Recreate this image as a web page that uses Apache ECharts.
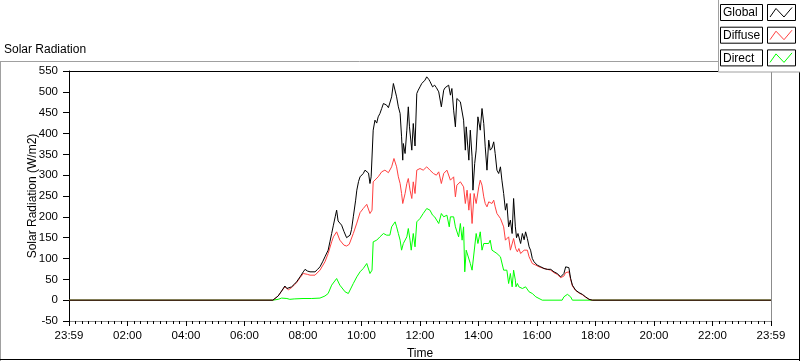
<!DOCTYPE html>
<html>
<head>
<meta charset="utf-8">
<script src="https://cdn.jsdelivr.net/npm/echarts@6/dist/echarts.min.js"></script>
<style>html,body{margin:0;padding:0;background:#fff}#c{width:800px;height:361px}</style>
</head>
<body>
<div id="c"></div>
<script>
// ---- data (time in hours of day, value in W/m2) ----
const seriesNames = ['Global', 'Diffuse', 'Direct'];
const yTicks = [-50, 0, 50, 100, 150, 200, 250, 300, 350, 400, 450, 500, 550];
const xTickLabels = ['23:59', '02:00', '04:00', '06:00', '08:00', '10:00', '12:00', '14:00', '16:00', '18:00', '20:00', '22:00', '23:59'];

const globalT = [0, 6.97, 7.15, 7.27, 7.38, 7.45, 7.50, 7.61, 7.70, 7.78, 7.90, 8.01, 8.07, 8.15, 8.24, 8.41, 8.50, 8.58, 8.67, 8.75, 8.86, 8.92, 8.98, 9.04, 9.10, 9.15, 9.20, 9.26, 9.32, 9.40, 9.49, 9.55, 9.61, 9.66, 9.72, 9.80, 9.84, 9.90, 9.95, 10.01, 10.06, 10.12, 10.18, 10.24, 10.29, 10.33, 10.38, 10.40, 10.46, 10.52, 10.57, 10.63, 10.69, 10.75, 10.80, 10.86, 10.92, 10.97, 11.03, 11.09, 11.15, 11.20, 11.26, 11.32, 11.37, 11.41, 11.43, 11.49, 11.55, 11.60, 11.64, 11.72, 11.77, 11.83, 11.89, 11.94, 12.00, 12.06, 12.11, 12.17, 12.23, 12.30, 12.34, 12.43, 12.50, 12.56, 12.64, 12.73, 12.81, 12.86, 12.92, 12.98, 13.04, 13.09, 13.15, 13.21, 13.26, 13.32, 13.38, 13.44, 13.49, 13.55, 13.58, 13.67, 13.72, 13.78, 13.81, 13.87, 13.92, 13.98, 14.06, 14.12, 14.18, 14.23, 14.29, 14.35, 14.40, 14.46, 14.52, 14.57, 14.63, 14.69, 14.75, 14.80, 14.86, 14.92, 14.97, 15.03, 15.09, 15.15, 15.20, 15.26, 15.30, 15.35, 15.44, 15.50, 15.56, 15.61, 15.67, 15.73, 15.78, 15.84, 15.90, 16.01, 16.13, 16.24, 16.35, 16.47, 16.58, 16.69, 16.81, 16.86, 16.92, 16.98, 17.09, 17.15, 17.21, 17.32, 17.44, 17.55, 17.66, 17.78, 17.89, 24];
const globalV = [0, 0, 10, 22, 34, 28, 26, 32, 38, 44, 56, 68, 74, 70, 68, 68, 74, 80, 92, 104, 120, 140, 160, 180, 200, 216, 190, 185, 180, 165, 150, 146, 156, 170, 200, 240, 264, 285, 296, 300, 304, 312, 316, 305, 280, 296, 300, 408, 432, 425, 440, 448, 460, 472, 470, 468, 462, 460, 488, 520, 522, 488, 464, 448, 392, 336, 376, 352, 408, 464, 416, 360, 424, 370, 496, 504, 512, 520, 524, 528, 536, 530, 525, 512, 516, 510, 500, 464, 504, 510, 512, 516, 492, 508, 456, 416, 484, 480, 476, 472, 432, 360, 416, 336, 408, 344, 264, 328, 360, 440, 408, 460, 424, 368, 312, 384, 360, 365, 380, 352, 312, 304, 320, 288, 256, 216, 232, 176, 192, 160, 244, 176, 150, 160, 136, 160, 145, 164, 148, 128, 120, 100, 92, 84, 80, 76, 74, 74, 68, 64, 56, 52, 64, 80, 78, 52, 36, 24, 18, 14, 8, 2, 0, 0];

const diffuseT = [0, 6.97, 7.15, 7.27, 7.38, 7.50, 7.61, 7.78, 7.90, 8.01, 8.07, 8.15, 8.24, 8.41, 8.58, 8.75, 8.86, 8.98, 9.04, 9.15, 9.26, 9.40, 9.49, 9.58, 9.61, 9.72, 9.84, 9.95, 10.06, 10.18, 10.29, 10.36, 10.40, 10.46, 10.57, 10.69, 10.80, 10.92, 11.03, 11.11, 11.20, 11.26, 11.32, 11.37, 11.41, 11.49, 11.55, 11.60, 11.66, 11.72, 11.77, 11.83, 11.89, 12.00, 12.11, 12.23, 12.34, 12.46, 12.56, 12.64, 12.73, 12.81, 12.92, 13.04, 13.15, 13.21, 13.26, 13.38, 13.49, 13.55, 13.61, 13.67, 13.72, 13.78, 13.85, 13.92, 14.01, 14.06, 14.12, 14.18, 14.23, 14.29, 14.35, 14.46, 14.52, 14.57, 14.63, 14.75, 14.86, 14.92, 15.03, 15.09, 15.20, 15.27, 15.33, 15.38, 15.44, 15.56, 15.61, 15.67, 15.73, 15.84, 15.96, 16.07, 16.24, 16.35, 16.47, 16.58, 16.69, 16.81, 16.86, 16.92, 16.98, 17.09, 17.15, 17.21, 17.32, 17.44, 17.55, 17.66, 17.78, 17.89, 24];
const diffuseV = [0, 0, 10, 22, 32, 25, 30, 42, 54, 64, 68, 62, 60, 60, 72, 92, 112, 140, 152, 164, 144, 132, 130, 134, 136, 160, 185, 210, 220, 230, 208, 216, 284, 288, 296, 308, 312, 306, 320, 340, 320, 296, 280, 256, 232, 256, 280, 292, 264, 244, 284, 256, 312, 316, 312, 320, 312, 304, 300, 308, 280, 304, 312, 288, 296, 248, 276, 284, 272, 232, 264, 216, 256, 184, 256, 232, 272, 288, 276, 248, 232, 224, 236, 232, 240, 224, 208, 196, 176, 144, 152, 120, 148, 124, 116, 124, 112, 120, 124, 120, 104, 88, 84, 80, 76, 74, 72, 66, 62, 54, 50, 58, 66, 68, 50, 34, 23, 17, 13, 7, 2, 0, 0];

const directT = [0, 6.97, 7.15, 7.27, 7.33, 7.45, 7.55, 7.70, 8.00, 8.30, 8.58, 8.75, 8.86, 8.98, 9.15, 9.26, 9.44, 9.55, 9.61, 9.72, 9.84, 9.95, 10.06, 10.18, 10.29, 10.36, 10.40, 10.52, 10.63, 10.75, 10.86, 10.97, 11.03, 11.15, 11.20, 11.26, 11.32, 11.37, 11.43, 11.49, 11.55, 11.60, 11.66, 11.70, 11.77, 11.83, 11.89, 12.00, 12.11, 12.23, 12.34, 12.43, 12.50, 12.56, 12.64, 12.73, 12.81, 12.92, 13.00, 13.04, 13.15, 13.21, 13.32, 13.38, 13.44, 13.49, 13.53, 13.58, 13.72, 13.78, 13.92, 13.98, 14.06, 14.12, 14.18, 14.35, 14.40, 14.46, 14.63, 14.75, 14.86, 14.97, 15.03, 15.09, 15.15, 15.20, 15.26, 15.28, 15.33, 15.38, 15.44, 15.50, 15.61, 15.73, 15.84, 15.96, 16.07, 16.18, 16.86, 16.92, 17.04, 17.15, 17.21, 24];
const directV = [0, 0, 2, 5, 7, 4, 2, 3, 4, 4, 5, 10, 16, 36, 52, 36, 20, 16, 20, 40, 56, 68, 76, 88, 64, 72, 140, 144, 152, 160, 156, 156, 176, 188, 176, 160, 144, 120, 136, 136, 152, 172, 144, 120, 160, 128, 188, 196, 208, 220, 216, 204, 200, 204, 184, 208, 200, 204, 176, 200, 200, 176, 152, 184, 144, 176, 68, 120, 88, 72, 160, 136, 164, 120, 136, 136, 144, 120, 112, 104, 72, 72, 40, 64, 32, 72, 48, 32, 40, 32, 36, 28, 32, 20, 16, 8, 4, 0, 0, 8, 14, 8, 0, 0];

const colors = { Global: '#000000', Diffuse: '#ff4040', Direct: '#00ff00' };
const zip = (t, v) => t.map((x, i) => [x, v[i]]);

const FONT = 'Liberation Sans, Arial, sans-serif';
const chart = echarts.init(document.getElementById('c'), null, { renderer: 'canvas' });

const legendStep = 22.7;
const graphics = [
  { type: 'line', shape: { x1: 0, y1: 61.5, x2: 719, y2: 61.5 }, style: { stroke: '#a0a0a0', lineWidth: 1 }, z: 5, silent: true },
  { type: 'line', shape: { x1: 0.5, y1: 61.5, x2: 0.5, y2: 361 }, style: { stroke: '#a0a0a0', lineWidth: 1 }, z: 5, silent: true },
  { type: 'line', shape: { x1: 0, y1: 359.5, x2: 800, y2: 359.5 }, style: { stroke: '#000', lineWidth: 1 }, z: 5, silent: true },
  { type: 'line', shape: { x1: 799.5, y1: 72, x2: 799.5, y2: 361 }, style: { stroke: '#000', lineWidth: 1 }, z: 5, silent: true },
  { type: 'rect', shape: { x: 718.5, y: -1, width: 90, height: 73 }, style: { fill: '#fff', stroke: '#a0a0a0', lineWidth: 1 }, z: 10, silent: true }
];
seriesNames.forEach((n, i) => {
  const T = 4.5 + i * legendStep;
  graphics.push({ type: 'rect', shape: { x: 720.5, y: T, width: 42, height: 16 }, style: { fill: '#fff', stroke: '#000', lineWidth: 1 }, z: 11, silent: true });
  graphics.push({ type: 'text', x: 723, y: T + 8.5, style: { text: n, font: '12px ' + FONT, fill: '#000', textVerticalAlign: 'middle', verticalAlign: 'middle' }, z: 12, silent: true });
  graphics.push({ type: 'rect', shape: { x: 767.5, y: T, width: 28, height: 16 }, style: { fill: '#fff', stroke: '#000', lineWidth: 1 }, z: 11, silent: true });
  graphics.push({ type: 'polyline', shape: { points: [[770, T + 12.5], [776, T + 4], [784, T + 12.5], [792, T + 3]] }, style: { stroke: colors[n], lineWidth: 1, fill: null }, z: 12, silent: true });
});

chart.setOption({
  animation: false,
  backgroundColor: '#fff',
  textStyle: { fontFamily: FONT },
  title: {
    text: 'Solar Radiation', left: 4, top: 44, padding: 0,
    textStyle: { fontSize: 12, fontWeight: 'normal', color: '#000', fontFamily: FONT }
  },
  graphic: graphics,
  grid: { left: 69, top: 71, right: 29, bottom: 40, containLabel: false, outerBoundsMode: 'none' },
  xAxis: [{
    type: 'value', min: 0, max: 24, interval: 2,
    name: 'Time', nameLocation: 'middle', nameGap: 27, nameMoveOverlap: false,
    nameTextStyle: { fontSize: 12, color: '#000', fontFamily: FONT },
    axisLine: { show: true, onZero: false, lineStyle: { color: '#8c8c8c', width: 1 } },
    axisTick: { show: true, length: 5, lineStyle: { color: '#000' } },
    minorTick: { show: true, splitNumber: 9, length: 3, lineStyle: { color: '#000' } },
    axisLabel: {
      fontSize: 11.5, color: '#000', margin: 9, fontFamily: FONT,
      formatter: v => xTickLabels[Math.round(v / 2)]
    },
    splitLine: { show: false }
  }, {
    type: 'value', min: 0, max: 24, position: 'top',
    axisLine: { show: true, onZero: false, lineStyle: { color: '#000', width: 1 } },
    axisTick: { show: false }, axisLabel: { show: false }, splitLine: { show: false }
  }],
  yAxis: [{
    type: 'value', min: yTicks[0], max: yTicks[yTicks.length - 1], interval: 50,
    name: 'Solar Radiation (W/m2)', nameLocation: 'middle', nameGap: 30, nameMoveOverlap: false,
    nameTextStyle: { fontSize: 12, color: '#000', fontFamily: FONT },
    axisLine: { show: true, onZero: false, lineStyle: { color: '#000', width: 1 } },
    axisTick: { show: true, length: 6, lineStyle: { color: '#000' } },
    axisLabel: { fontSize: 11.5, color: '#000', margin: 11, fontFamily: FONT },
    splitLine: { show: false }
  }, {
    type: 'value', min: yTicks[0], max: yTicks[yTicks.length - 1], position: 'right',
    axisLine: { show: true, onZero: false, lineStyle: { color: '#8c8c8c', width: 1 } },
    axisTick: { show: false }, axisLabel: { show: false }, splitLine: { show: false }
  }],
  series: [
    { name: 'Direct', type: 'line', data: zip(directT, directV), showSymbol: false, symbol: 'none', lineStyle: { width: 1, color: colors.Direct }, itemStyle: { color: colors.Direct } },
    { name: 'Diffuse', type: 'line', data: zip(diffuseT, diffuseV), showSymbol: false, symbol: 'none', lineStyle: { width: 1, color: colors.Diffuse }, itemStyle: { color: colors.Diffuse } },
    { name: 'Global', type: 'line', data: zip(globalT, globalV), showSymbol: false, symbol: 'none', lineStyle: { width: 1, color: colors.Global }, itemStyle: { color: colors.Global } }
  ]
});
</script>
</body>
</html>
